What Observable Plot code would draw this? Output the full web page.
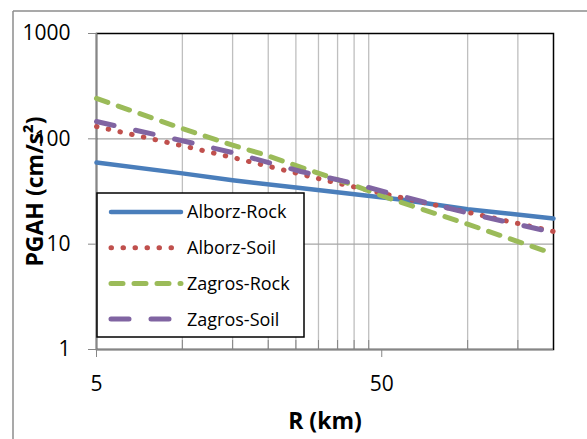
<!DOCTYPE html>
<html><head><meta charset="utf-8">
<script src="https://cdn.jsdelivr.net/npm/d3@7"></script>
<script src="https://cdn.jsdelivr.net/npm/@observablehq/plot@0.6"></script>
<style>html,body{margin:0;background:#fff} svg{display:block}</style>
</head><body><div id="chart"></div>
<script>
const seriesNames = ["Alborz-Rock","Alborz-Soil","Zagros-Rock","Zagros-Soil"];
const alborzRockR   = [5,10,15,25,58,100,200];
const alborzRockPGA = [59.6,47,40.5,34.5,26.5,21.5,17.5];
const alborzSoilR   = [5,10,15,23,31,46,61,120,200];
const alborzSoilPGA = [131,86,66.5,50,41,32,27,18,13.2];
const zagrosRockR   = [5,10,15,19,39,53.5,100,200];
const zagrosRockPGA = [242,125,87,72,37,27,15.5,8.1];
const zagrosSoilR   = [5,10,15,26,40,52,102,200];
const zagrosSoilPGA = [146,96,74,49,37.7,31,19.5,12.9];
const xTicks = [5,50];
const xMinor = [10,15,20,25,30,35,40,45,100,150];
const yTicks = [1,10,100,1000];

const colors = ["#4A7EBB","#C0504D","#9BBB59","#8064A2"];
const dashes = [null,"0.5,11.5","12,11","18,22"];
const widths = [4.5,5,5,5];

const rows = (n,R,P)=>R.map((r,i)=>({series:n,R:r,PGA:P[i]}));
const data = [
  ...rows(seriesNames[0],alborzRockR,alborzRockPGA),
  ...rows(seriesNames[1],alborzSoilR,alborzSoilPGA),
  ...rows(seriesNames[2],zagrosRockR,zagrosRockPGA),
  ...rows(seriesNames[3],zagrosSoilR,zagrosSoilPGA)
];

const lineMarks = seriesNames.map((n,i)=>Plot.line(data.filter(d=>d.series===n),{
  x:"R", y:"PGA", stroke:colors[i], strokeWidth:widths[i],
  strokeDasharray:dashes[i], strokeLinecap:"round", strokeLinejoin:"round"
}));

const chart = Plot.plot({
  width:587, height:439,
  marginLeft:96, marginRight:34, marginTop:33, marginBottom:90,
  style:{fontFamily:"'Open Sans', sans-serif", fontSize:"21px", background:"#fff", color:"#000"},
  x:{type:"log", domain:[5,200]},
  y:{type:"log", domain:[1,1000]},
  marks:[
    Plot.gridX(xMinor,{stroke:"#BFBFBF", strokeOpacity:1, strokeWidth:1.3}),
    Plot.gridY([10,100],{stroke:"#A6A6A6", strokeOpacity:1, strokeWidth:1.3}),
    Plot.frame({stroke:"#000", strokeWidth:1.5}),
    Plot.ruleX([5],{stroke:"#868686", strokeWidth:1.5}),
    Plot.ruleY([1],{stroke:"#868686", strokeWidth:1.5}),
    Plot.axisY({ticks:yTicks, tickFormat:d=>String(d), tickSize:8, tickPadding:18, stroke:"#868686", label:null, fontSize:21}),
    Plot.axisX({ticks:xTicks, tickFormat:d=>String(d), tickSize:8, tickPadding:19, stroke:"#868686", label:null, fontSize:21}),
    Plot.axisX({ticks:xMinor, tickFormat:()=>"", tickSize:-9, stroke:"#868686", label:null}),
    ...lineMarks,
    Plot.text(["R (km)"],{frameAnchor:"bottom", dy:72, lineAnchor:"middle", textAnchor:"middle", text:d=>d, fontWeight:"bold", fontSize:23}),
    Plot.text(["PGAH (cm/s²)"],{frameAnchor:"left", dx:-61, rotate:-90, lineAnchor:"middle", textAnchor:"middle", text:d=>d, fontWeight:"bold", fontSize:23})
  ]
});

const svg = d3.select(chart);
// outer chart-area border (top and left visible)
svg.append("line").attr("x1",13).attr("y1",11).attr("x2",587).attr("y2",11).attr("stroke","#8C8C8C").attr("stroke-width",1.5);
svg.append("line").attr("x1",13).attr("y1",11).attr("x2",13).attr("y2",439).attr("stroke","#8C8C8C").attr("stroke-width",1.5);
// legend
const lg = svg.append("g");
lg.append("rect").attr("x",97).attr("y",193).attr("width",207).attr("height",144)
  .attr("fill","#fff").attr("stroke","#000").attr("stroke-width",1.5);
seriesNames.forEach((n,i)=>{
  const y = 212 + i*35.7;
  lg.append("line").attr("x1",111).attr("x2",181).attr("y1",y).attr("y2",y)
    .attr("stroke",colors[i]).attr("stroke-width",widths[i]).attr("stroke-linecap","round")
    .attr("stroke-dasharray",dashes[i]);
  lg.append("text").attr("x",187).attr("y",y).attr("dy","0.36em")
    .attr("text-anchor","start").attr("font-size",18).attr("fill","#000").text(n);
});
document.getElementById("chart").appendChild(chart);
</script>
</body></html>
